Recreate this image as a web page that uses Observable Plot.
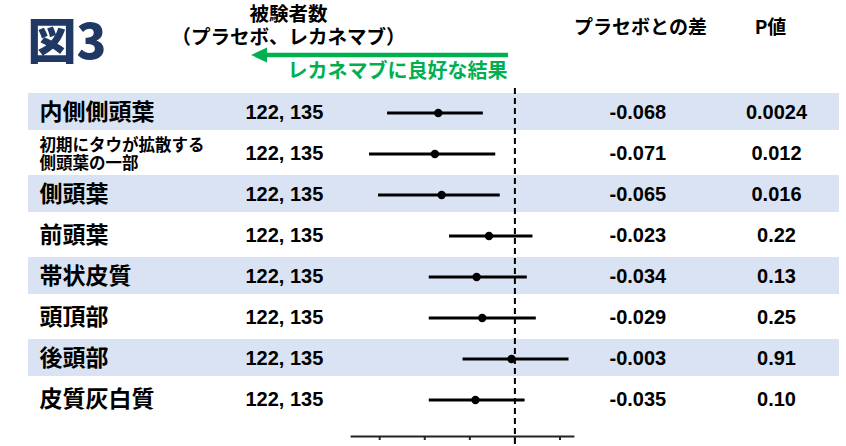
<!DOCTYPE html>
<html>
<head>
<meta charset="utf-8">
<script src="https://cdn.jsdelivr.net/npm/d3@7"></script>
<script src="https://cdn.jsdelivr.net/npm/@observablehq/plot@0.6"></script>
<style>
  html, body { margin: 0; padding: 0; background: #fff; }
  #chart svg { display: block; }
</style>
</head>
<body>
<div id="chart"></div>
<script>
// ---- data ----
const regions = [
  "内側側頭葉",
  "初期にタウが拡散する\n側頭葉の一部",
  "側頭葉",
  "前頭葉",
  "帯状皮質",
  "頭頂部",
  "後頭部",
  "皮質灰白質"
];
const nLabels = ["122, 135", "122, 135", "122, 135", "122, 135", "122, 135", "122, 135", "122, 135", "122, 135"];
const diffs  = [-0.068, -0.071, -0.065, -0.023, -0.034, -0.029, -0.003, -0.035];
const ciLow  = [-0.113, -0.129, -0.121, -0.058, -0.076, -0.076, -0.046, -0.076];
const ciHigh = [-0.028, -0.017, -0.013,  0.016,  0.011,  0.019,  0.048,  0.009];
const pValues = ["0.0024", "0.012", "0.016", "0.22", "0.13", "0.25", "0.91", "0.10"];
const xTicks = [-0.12, -0.08, -0.04, 0, 0.04];
const xDomain = [-0.145, 0.052];
const arrowSpan = [-0.0057, -0.2337]; // annotation: "favours lecanemab" arrow
const titleText = "図3";
const headerN = "被験者数\n（プラセボ、レカネマブ）";
const headerDiff = "プラセボとの差";
const headerP = "P値";
const favourText = "レカネマブに良好な結果";

// ---- layout ----
const W = 846, H = 446;
const xRange = [351, 573];
const yRange = [89, 423];
const CJK = "'Noto Sans CJK JP', 'Noto Sans', sans-serif";
const NUM = "'Liberation Sans', Arial, sans-serif";
const GREEN = "#00b050";
const NAVY = "#1f3864";
const BAND = "#dae3f3";

const rows = regions.map((region, i) => ({
  region, n: nLabels[i], diff: diffs[i], low: ciLow[i], high: ciHigh[i], p: pValues[i], i
}));

const header = (txt, o) => Plot.text([txt], {
  text: d => d, frameAnchor: "top-left", lineAnchor: "middle",
  fontFamily: CJK, fontWeight: 700, fill: "#000", ...o
});

const arrowMark = (index, scales) => {
  const g = d3.create("svg:g");
  const xa = scales.x(arrowSpan[0]);
  const xb = scales.x(arrowSpan[1]);
  const y = 55, head = 16, half = 7.5;
  g.append("line")
    .attr("x1", xa).attr("x2", xb + head - 1)
    .attr("y1", y).attr("y2", y)
    .attr("stroke", GREEN).attr("stroke-width", 4.5);
  g.append("path")
    .attr("d", `M${xb},${y}L${xb + head},${y - half}L${xb + head},${y + half}Z`)
    .attr("fill", GREEN);
  return g.node();
};

const chart = Plot.plot({
  width: W,
  height: H,
  marginTop: 0,
  marginLeft: 0,
  marginRight: 0,
  marginBottom: H - 436,
  style: { background: "#fff", overflow: "visible" },
  x: { domain: xDomain, range: xRange, axis: null },
  y: { type: "band", domain: regions, range: yRange, padding: 0, axis: null },
  marks: [
    // shaded bands
    Plot.cell(rows, {
      filter: d => d.i % 2 === 0, y: "region", fill: BAND,
      insetLeft: 28, insetRight: 7, insetTop: 1, insetBottom: 3
    }),
    // axis line & ticks
    Plot.frame({ anchor: "bottom", insetLeft: xRange[0], insetRight: W - xRange[1], stroke: "#222", strokeWidth: 1.8 }),
    Plot.axisX(xTicks, { anchor: "bottom", tickSize: 4, tickFormat: () => "", label: null, stroke: "#222", strokeWidth: 2 }),
    // zero line
    Plot.ruleX([0], { insetTop: 88, insetBottom: -8, stroke: "#000", strokeWidth: 2, strokeDasharray: "6,4" }),
    // confidence intervals and estimates
    Plot.ruleY(rows, { y: "region", x1: "low", x2: "high", stroke: "#000", strokeWidth: 3 }),
    Plot.dot(rows, { x: "diff", y: "region", r: 4.2, fill: "#000", stroke: null }),
    // row labels
    Plot.text(rows, {
      filter: d => !d.region.includes("\n"), y: "region", text: "region",
      frameAnchor: "left", dx: 39, textAnchor: "start",
      fontSize: 23, fontWeight: 700, fontFamily: CJK, fill: "#000"
    }),
    Plot.text(rows, {
      filter: d => d.region.includes("\n"), y: "region", text: "region",
      frameAnchor: "left", dx: 39, textAnchor: "start", lineHeight: 1.12,
      fontSize: 16.5, fontWeight: 700, fontFamily: CJK, fill: "#000"
    }),
    // numbers columns
    Plot.text(rows, {
      y: "region", text: "n", frameAnchor: "left", dx: 245, textAnchor: "start",
      fontSize: 20, fontWeight: 700, fontFamily: NUM, fill: "#000"
    }),
    Plot.text(rows, {
      y: "region", text: d => d.diff.toFixed(3), frameAnchor: "left", dx: 609, textAnchor: "start",
      fontSize: 20, fontWeight: 700, fontFamily: NUM, fill: "#000"
    }),
    Plot.text(rows, {
      y: "region", text: "p", frameAnchor: "left", dx: 776, textAnchor: "middle",
      fontSize: 20, fontWeight: 700, fontFamily: NUM, fill: "#000"
    }),
    // headers
    header(titleText, { dx: 27, dy: 43, textAnchor: "start", fontSize: 49, fontWeight: 900, fill: NAVY }),
    header(headerN, { dx: 288, dy: 25, textAnchor: "middle", fontSize: 19.5, lineHeight: 1.18 }),
    header(headerDiff, { dx: 640, dy: 27, textAnchor: "middle", fontSize: 19 }),
    header(headerP, { dx: 770, dy: 27, textAnchor: "middle", fontSize: 19 }),
    header(favourText, { dx: 507, dy: 71, textAnchor: "end", fontSize: 20, fill: GREEN }),
    arrowMark
  ]
});

document.getElementById("chart").appendChild(chart);
</script>
</body>
</html>
